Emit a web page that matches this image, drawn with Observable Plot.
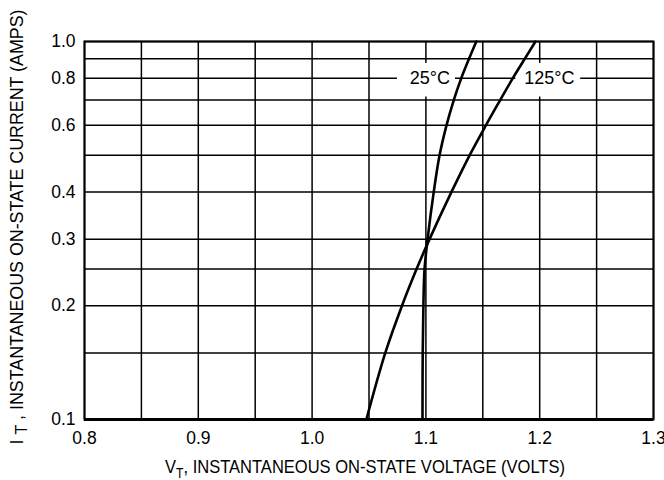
<!DOCTYPE html>
<html>
<head>
<meta charset="utf-8">
<script src="https://cdn.jsdelivr.net/npm/d3@7"></script>
<script src="https://cdn.jsdelivr.net/npm/@observablehq/plot@0.6"></script>
<style>
  html, body { margin: 0; padding: 0; background: #fff; }
  #chart { width: 664px; height: 480px; }
</style>
</head>
<body>
<div id="chart"></div>
<script>
// Data
const currentAmps = [0.1, 0.15, 0.2, 0.25, 0.3, 0.4, 0.5, 0.6, 0.7, 0.8, 0.9, 1.0];
const volts25C  = [1.0970, 1.0972, 1.0978, 1.0988, 1.1015, 1.1069, 1.1120, 1.1181, 1.1245, 1.1311, 1.1379, 1.1443];
const volts125C = [1.0477, 1.0643, 1.0790, 1.0918, 1.1032, 1.1225, 1.1384, 1.1527, 1.1653, 1.1764, 1.1869, 1.1963];
const seriesNames = ["25°C", "125°C"];

const xTicks = [0.8, 0.9, 1.0, 1.1, 1.2, 1.3];
const xGrid = [0.8, 0.85, 0.9, 0.95, 1.0, 1.05, 1.1, 1.15, 1.2, 1.25, 1.3];
const yTicks = [0.1, 0.2, 0.3, 0.4, 0.6, 0.8, 1.0];
const yGrid = [0.1, 0.15, 0.2, 0.25, 0.3, 0.4, 0.5, 0.6, 0.7, 0.8, 0.9, 1.0];

// label annotations (voltage centre, current)
const labelV = [1.1035, 1.2085];
const labelI = 0.8;
const labelBoxes = [
  {x1: 1.075, x2: 1.126, y1: 0.713, y2: 0.875},
  {x1: 1.179, x2: 1.236, y1: 0.713, y2: 0.875}
];

const rows = [];
currentAmps.forEach((a, i) => rows.push({series: seriesNames[0], v: volts25C[i], a}));
currentAmps.forEach((a, i) => rows.push({series: seriesNames[1], v: volts125C[i], a}));
const labels = seriesNames.map((s, i) => ({text: s, v: labelV[i], a: labelI}));

const FONT = "'Liberation Sans', Arial, Helvetica, sans-serif";

const plot = Plot.plot({
  width: 664,
  height: 480,
  marginLeft: 84,
  marginRight: 11,
  marginTop: 41,
  marginBottom: 61,
  style: {fontFamily: FONT, fontSize: "17.5px", background: "#fff", color: "#000"},
  x: {domain: [0.8, 1.3], label: null},
  y: {type: "log", domain: [0.1, 1.0], label: null},
  marks: [
    Plot.ruleX(xGrid, {stroke: "#000", strokeWidth: 1.5}),
    Plot.ruleY(yGrid, {stroke: "#000", strokeWidth: 1.5}),
    Plot.rect(labelBoxes, {x1: "x1", x2: "x2", y1: "y1", y2: "y2", fill: "#fff"}),
    Plot.text(labels, {x: "v", y: "a", text: "text", fontSize: 18, fill: "#000", fontFamily: FONT}),
    Plot.line(rows, {x: "v", y: "a", z: "series", stroke: "#000", strokeWidth: 2.6, curve: "catmull-rom"}),
    Plot.frame({stroke: "#000", strokeWidth: 2}),
    Plot.ruleY([0.1], {stroke: "#000", strokeWidth: 3}),
    Plot.axisX({ticks: xTicks, tickSize: 0, tickPadding: 12, tickFormat: d => d.toFixed(1), fontSize: 17.5, label: null}),
    Plot.axisY({ticks: yTicks, tickSize: 0, tickPadding: 9, tickFormat: d => d.toFixed(1), fontSize: 17.5, label: null})
  ]
});

document.getElementById("chart").appendChild(plot);

const svg = d3.select(plot);
const xl = svg.append("text")
  .attr("x", 365).attr("y", 473)
  .attr("text-anchor", "middle")
  .attr("textLength", 400).attr("lengthAdjust", "spacingAndGlyphs")
  .attr("font-family", FONT).attr("font-size", 19).attr("fill", "#000");
xl.append("tspan").text("V");
xl.append("tspan").attr("dy", 5).attr("font-size", 14).text("T");
xl.append("tspan").attr("dy", -5).text(", INSTANTANEOUS ON-STATE VOLTAGE (VOLTS)");

const yl = svg.append("text")
  .attr("transform", "translate(23,227) rotate(-90)")
  .attr("text-anchor", "middle")
  .attr("textLength", 435).attr("lengthAdjust", "spacingAndGlyphs")
  .attr("font-family", FONT).attr("font-size", 19).attr("fill", "#000");
yl.append("tspan").text("I ");
yl.append("tspan").attr("dy", 4).attr("font-size", 17).text("T");
yl.append("tspan").attr("dy", -4).text(" , INSTANTANEOUS ON-STATE CURRENT (AMPS)");
</script>
</body>
</html>
